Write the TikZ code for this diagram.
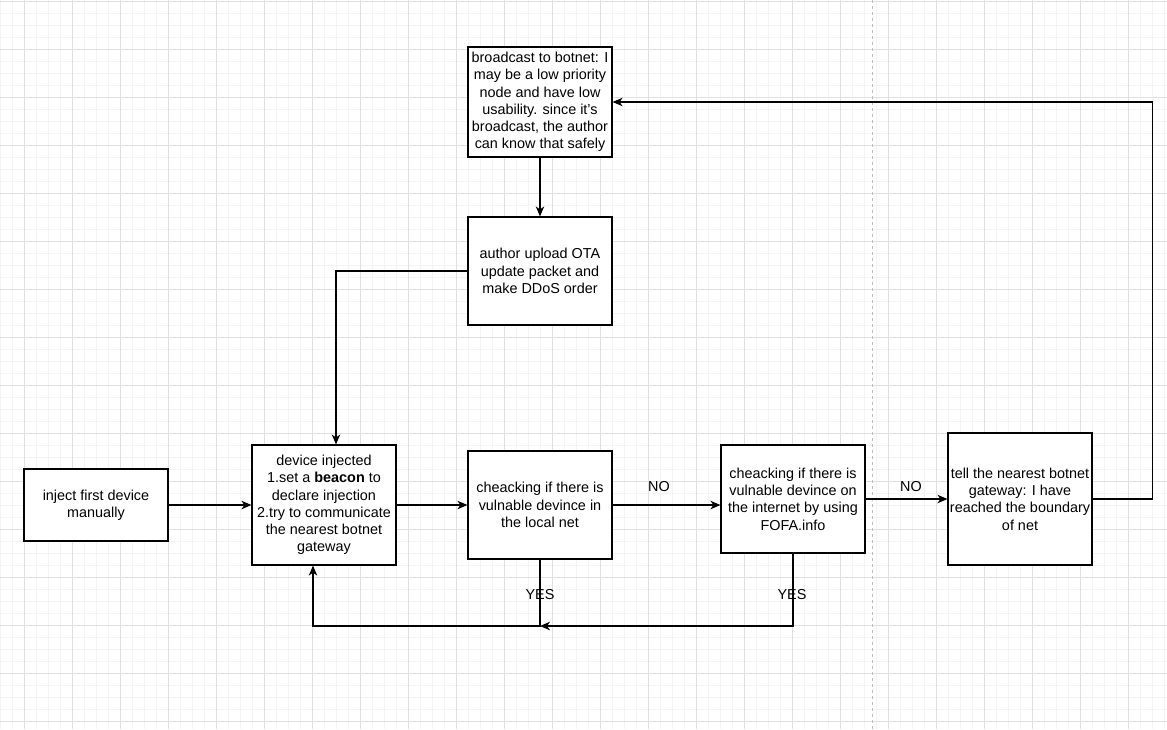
\documentclass[tikz,border=0pt]{standalone}
\usepackage{fontspec}
\setmainfont{Liberation Sans}
\usetikzlibrary{arrows.meta,calc}
\definecolor{gminor}{HTML}{F3F3F3}
\definecolor{gmajor}{HTML}{E0E0E0}
\definecolor{dashc}{HTML}{BDBDBD}
\tikzset{
  box/.style={draw=black,line width=1.2pt,fill=white,inner sep=0pt,align=center,
    font=\fontsize{14.4pt}{17.28pt}\selectfont},
  lbl/.style={inner sep=0pt,font=\fontsize{14.4pt}{17.28pt}\selectfont},
  arr/.style={draw=black,line width=1.2pt,-{Stealth[length=10pt,width=8.5pt,inset=3pt]}},
}
\begin{document}
\begin{tikzpicture}[x=1pt,y=-1pt]
\useasboundingbox (0,0) rectangle (1167,729);
\fill[white] (0,0) rectangle (1167,729);
% grid
\foreach \x in {0,12,...,1164} \draw[gminor,line width=1pt] (\x,0) -- (\x,729);
\foreach \y in {1,13,...,729} \draw[gminor,line width=1pt] (0,\y) -- (1167,\y);
\foreach \x in {24,72,...,1164} \draw[gmajor,line width=1pt] (\x,0) -- (\x,729);
\foreach \y in {1,49,...,729} \draw[gmajor,line width=1pt] (0,\y) -- (1167,\y);
\draw[dashc,line width=1pt,dash pattern=on 3pt off 3pt] (872.5,0) -- (872.5,729);
% nodes
\node[box,minimum width=144pt,minimum height=72pt] (inj) at (96,505) {inject first device\\manually};
\node[box,minimum width=144pt,minimum height=120pt] (dev) at (324,505) {device injected\\1.set a \textbf{beacon} to\\declare injection\\2.try to communicate\\the nearest botnet\\gateway};
\node[box,minimum width=144pt,minimum height=108pt] (loc) at (540,505) {cheacking if there is\\vulnable devince in\\the local net};
\node[box,minimum width=144pt,minimum height=108pt] (inet) at (793,499) {cheacking if there is\\vulnable devince on\\the internet by using\\FOFA.info};
\node[box,minimum width=144pt,minimum height=132pt] (tell) at (1020,499) {tell the nearest botnet\\gateway: I have\\reached the boundary\\of net};
\node[box,minimum width=144pt,minimum height=110pt] (bc) at (540,102) {broadcast to botnet: I\\may be a low priority\\node and have low\\usability. since it's\\broadcast, the author\\can know that safely};
\node[box,minimum width=144pt,minimum height=108pt] (auth) at (540,271) {author upload OTA\\update packet and\\make DDoS order};
\coordinate (ym) at (540,626);
% edges
\draw[arr] (inj.east) -- (dev.west);
\draw[arr] (dev.east) -- (loc.west);
\draw[arr] (loc.east) -- (loc.east -| inet.west);
\node[lbl] (no1) at (659,487) {NO};
\draw[arr] (inet.east) -- (inet.east -| tell.west);
\node[lbl] (no2) at (911,487) {NO};
\draw[arr] (tell.east) -- ++(60,0) |- (bc.east);
\draw[arr] (bc.south) -- (auth.north);
\draw[arr] (auth.west) -| ([xshift=12pt]dev.north);
\draw[arr] (loc.south) -- (ym) -| ([xshift=-11pt]dev.south);
\draw[arr] (inet.south) |- (ym);
\node[lbl] (yes1) at (540,595) {YES};
\node[lbl] (yes2) at (792,595) {YES};
\end{tikzpicture}
\end{document}
